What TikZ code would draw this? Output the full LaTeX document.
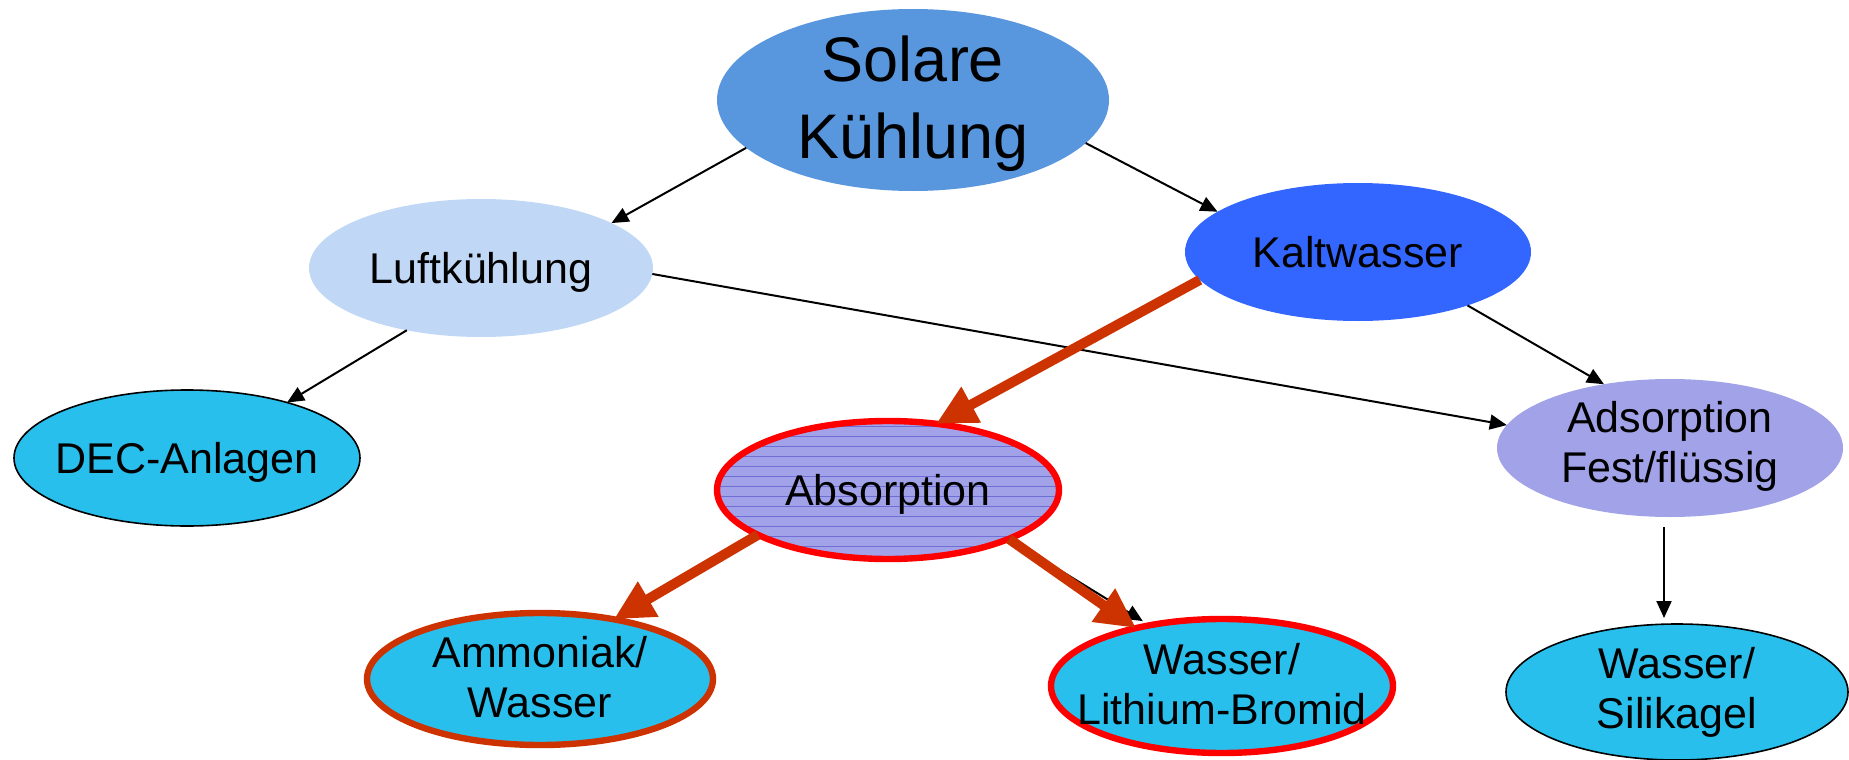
\documentclass[tikz,border=0pt]{standalone}
\usepackage{fontspec}
\setmainfont{Liberation Sans}
\usetikzlibrary{shapes.geometric,arrows.meta}
\definecolor{solfill}{RGB}{88,150,222}
\definecolor{luftfill}{RGB}{192,216,245}
\definecolor{kaltfill}{RGB}{51,102,255}
\definecolor{lavfill}{RGB}{162,162,232}
\definecolor{abslines}{RGB}{110,110,214}
\definecolor{cyanfill}{RGB}{41,191,237}
\definecolor{rust}{RGB}{204,51,0}
\definecolor{brightred}{RGB}{255,0,0}
\tikzset{
  ell/.style={ellipse, inner sep=0pt, outer sep=0pt},
  small/.style={font=\fontsize{21.5}{25}\selectfont, align=center, inner sep=0pt},
  big/.style={font=\fontsize{31.5}{38.5}\selectfont, align=center, inner sep=0pt},
  thinarrow/.style={line width=1pt, -{Triangle[length=8.5pt,width=7.5pt]}},
  thickarrow/.style={draw=rust, line width=5pt, -{Triangle[length=20pt,width=19pt]}, fill=rust},
}
\begin{document}
\begin{tikzpicture}[x=0.5pt,y=-0.5pt]
\useasboundingbox (0,0) rectangle (1849,760);

% ellipses
\node[ell, fill=solfill, minimum width=196pt, minimum height=91pt] (sol) at (913,100) {};
\node[ell, fill=luftfill, minimum width=172pt, minimum height=69pt] (luft) at (481,268) {};
\node[ell, fill=kaltfill, minimum width=173pt, minimum height=69pt] (kalt) at (1358,252) {};
\node[ell, fill=lavfill, minimum width=173pt, minimum height=69pt] (ads) at (1670,448) {};
\node[ell, fill=cyanfill, draw=black, line width=0.8pt, minimum width=173pt, minimum height=68pt] (dec) at (187,458) {};
\node[ell, fill=cyanfill, draw=black, line width=0.8pt, minimum width=171pt, minimum height=68pt] (sil) at (1677,692) {};
\node[ell, fill=lavfill, draw=brightred, line width=3.2pt, minimum width=171pt, minimum height=69pt,
  path picture={\foreach \k in {0,...,15} \draw[abslines, line width=0.5pt]
     ([yshift=-\k*5pt+37pt]path picture bounding box.west) -- ++(360,0);}] (abs) at (888,490) {};
\node[ell, fill=cyanfill, draw=rust, line width=3.2pt, minimum width=173pt, minimum height=66pt] (amm) at (540,679) {};
\node[ell, fill=cyanfill, draw=brightred, line width=3.2pt, minimum width=171pt, minimum height=67pt] (libr) at (1222,686) {};

% texts
\node[big, yshift=-2pt] (solt) at (sol) {Solare\\Kühlung};
\node[small, text height=15.5pt, text depth=0pt] (lufft) at (luft) {Luftkühlung};
\node[small, text height=15.5pt, text depth=0pt] (kaltt) at (kalt) {Kaltwasser};
\node[small, yshift=1pt] (adst) at (ads) {Adsorption\\Fest/flüssig};
\node[small, text height=15.5pt, text depth=0pt] (dect) at (dec) {DEC-Anlagen};
\node[small, yshift=0pt] (silt) at (sil) {Wasser/\\Silikagel};
\node[small, text height=15.5pt, text depth=0pt] (abst) at (abs) {Absorption};
\node[small, yshift=1pt] (ammt) at (amm) {Ammoniak/\\Wasser};
\node[small, yshift=1pt] (librt) at (libr) {Wasser/\\Lithium-Bromid};

% thin connectors
\draw[thinarrow] (sol.196) -- (luft.19);
\draw[thinarrow] (sol.346) -- (kalt.164);
\draw[thinarrow] (luft.220) -- (dec.29);
\draw[thinarrow] (luft.-2) -- (ads.172);
\draw[thinarrow] (kalt.-26) -- (ads.136);
\draw[thinarrow] ([xshift=-3pt,yshift=-5pt]ads.south) -- ([xshift=-6.5pt,yshift=3pt]sil.north);
\draw[thinarrow, shorten >=4pt] (abs.-22) -- (libr.140);

% thick connectors
\draw[thickarrow] (kalt.190) -- (abs.54);
\draw[thickarrow] (abs.199) -- (amm.39);
\draw[thickarrow] (abs.-22) -- (libr.146);
\end{tikzpicture}
\end{document}
